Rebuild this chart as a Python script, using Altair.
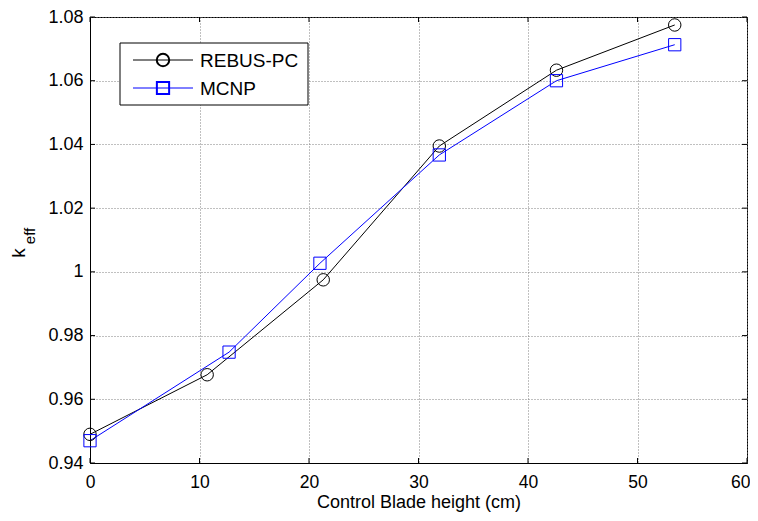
import altair as alt
import pandas as pd

# Data
rebus_x = [0.0, 10.7, 21.3, 31.9, 42.6, 53.4]
rebus_k = [0.9490, 0.9677, 0.9975, 1.0395, 1.0633, 1.0775]
mcnp_x = [0.0, 12.7, 21.0, 31.9, 42.6, 53.4]
mcnp_k = [0.9470, 0.9748, 1.0027, 1.0367, 1.0600, 1.0713]

x_ticks = [0, 10, 20, 30, 40, 50, 60]
y_ticks = [0.94, 0.96, 0.98, 1.00, 1.02, 1.04, 1.06, 1.08]

W, H = 657, 446
FONT = "Liberation Sans"

rebus = pd.DataFrame({"x": rebus_x, "k": rebus_k})
mcnp = pd.DataFrame({"x": mcnp_x, "k": mcnp_k})
xt = pd.DataFrame({"t": x_ticks})
yt = pd.DataFrame({"t": y_ticks})

xs = alt.Scale(domain=[0, 60], nice=False)
ys = alt.Scale(domain=[0.94, 1.08], nice=False)

xenc = alt.X("x:Q", scale=xs, axis=alt.Axis(
    values=x_ticks, title="Control Blade height (cm)", grid=True, ticks=False,
    labelFlush=False, labelPadding=10, labelFontSize=17.5, titlePadding=3, titleFontSize=18,
    labelAlign={"condition": {"test": "datum.value == 60", "value": "right"}, "value": "center"},
    labelOffset={"condition": {"test": "datum.value == 60", "value": 3}, "value": 0}))
yenc = alt.Y("k:Q", scale=ys, axis=alt.Axis(
    values=y_ticks, title=None, grid=True, ticks=False, format=".2~f",
    labelFlush=False, labelPadding=7))

base_r = alt.Chart(rebus).encode(x=xenc, y=yenc)
base_m = alt.Chart(mcnp).encode(x=xenc, y=yenc)

line_r = base_r.mark_line(color="black", strokeWidth=1)
pt_r = base_r.mark_point(shape="circle", filled=False, size=155, color="black", strokeWidth=1, opacity=1)
line_m = base_m.mark_line(color="#0000ff", strokeWidth=1)
pt_m = base_m.mark_point(shape="square", filled=False, size=150, color="#0000ff", strokeWidth=1, opacity=1)

# inward ticks on all four sides
tk = 5
xt_b = alt.Chart(xt).mark_rule(color="black").encode(x=alt.X("t:Q", scale=xs), y=alt.value(H), y2=alt.value(H - tk))
xt_t = alt.Chart(xt).mark_rule(color="black").encode(x=alt.X("t:Q", scale=xs), y=alt.value(0), y2=alt.value(tk))
yt_l = alt.Chart(yt).mark_rule(color="black").encode(y=alt.Y("t:Q", scale=ys), x=alt.value(0), x2=alt.value(tk))
yt_r = alt.Chart(yt).mark_rule(color="black").encode(y=alt.Y("t:Q", scale=ys), x=alt.value(W), x2=alt.value(W - tk))

# legend
one = pd.DataFrame({"a": [0]})
leg_box = alt.Chart(one).mark_rect(fill="white", stroke="black", strokeWidth=1).encode(
    x=alt.value(30), x2=alt.value(218), y=alt.value(26), y2=alt.value(88))
leg_l1 = alt.Chart(one).mark_rule(color="black", strokeWidth=1).encode(
    x=alt.value(43), x2=alt.value(103), y=alt.value(43))
leg_p1 = alt.Chart(one).mark_point(shape="circle", filled=False, size=155, color="black", opacity=1).encode(
    x=alt.value(73), y=alt.value(43))
leg_t1 = alt.Chart(one).mark_text(text="REBUS-PC", align="left", baseline="middle", font=FONT, fontSize=19).encode(
    x=alt.value(110), y=alt.value(44))
leg_l2 = alt.Chart(one).mark_rule(color="#0000ff", strokeWidth=1).encode(
    x=alt.value(43), x2=alt.value(103), y=alt.value(71))
leg_p2 = alt.Chart(one).mark_point(shape="square", filled=False, size=150, color="#0000ff", opacity=1).encode(
    x=alt.value(73), y=alt.value(71))
leg_t2 = alt.Chart(one).mark_text(text="MCNP", align="left", baseline="middle", font=FONT, fontSize=19).encode(
    x=alt.value(110), y=alt.value(72))

# y-axis title k_eff
yk = alt.Chart(one).mark_text(text="k", angle=270, align="center", baseline="middle", font=FONT, fontSize=19).encode(
    x=alt.value(-71), y=alt.value(236))
yeff = alt.Chart(one).mark_text(text="eff", angle=270, align="center", baseline="middle", font=FONT, fontSize=15).encode(
    x=alt.value(-60), y=alt.value(219))

chart = alt.layer(
    line_r, line_m, pt_r, pt_m,
    xt_b, xt_t, yt_l, yt_r,
    leg_box, leg_l1, leg_p1, leg_t1, leg_l2, leg_p2, leg_t2,
    yk, yeff,
).properties(
    width=W, height=H,
    padding={"left": 82, "top": 9, "right": 3, "bottom": 50},
    autosize=alt.AutoSizeParams(type="none"),
).configure_view(
    stroke="black", strokeWidth=1
).configure_axis(
    labelFont=FONT, titleFont=FONT, labelFontSize=18, titleFontSize=18,
    labelColor="black", titleColor="black", titleFontWeight="normal",
    domainColor="black", gridColor="#808080", gridDash=[1, 2], gridWidth=1, gridOpacity=1,
)

chart.save("out.html", embed_options={"renderer": "svg", "actions": False})
